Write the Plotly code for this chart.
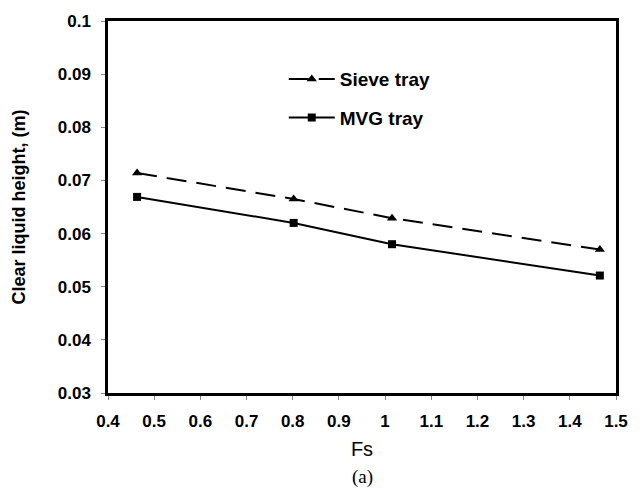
import plotly.graph_objects as go

fs = [0.463, 0.802, 1.015, 1.465]
sieve = [0.0714, 0.0665, 0.0629, 0.0570]
mvg = [0.0669, 0.0620, 0.0580, 0.0521]

x_ticks = [0.4, 0.5, 0.6, 0.7, 0.8, 0.9, 1.0, 1.1, 1.2, 1.3, 1.4, 1.5]
x_tick_text = ["0.4", "0.5", "0.6", "0.7", "0.8", "0.9", "1", "1.1", "1.2", "1.3", "1.4", "1.5"]
y_ticks = [0.03, 0.04, 0.05, 0.06, 0.07, 0.08, 0.09, 0.1]
y_tick_text = ["0.03", "0.04", "0.05", "0.06", "0.07", "0.08", "0.09", "0.1"]

font_b = "Liberation Sans"

fig = go.Figure()
fig.add_trace(go.Scatter(
    x=fs, y=sieve, name="Sieve tray", mode="lines+markers", legendgroup="a",
    line=dict(color="black", width=2, dash="20px,10px"),
    marker=dict(symbol="triangle-up", size=9, color="black"),
))
fig.add_trace(go.Scatter(
    x=fs, y=mvg, name="MVG tray", mode="lines+markers", legendgroup="b",
    line=dict(color="black", width=2),
    marker=dict(symbol="square", size=8, color="black"),
))

fig.update_layout(
    width=640, height=491,
    margin=dict(l=108, r=15, t=21, b=98),
    paper_bgcolor="white", plot_bgcolor="white",
    showlegend=True,
    legend=dict(
        x=0.346, y=0.895, xanchor="left", yanchor="top",
        bgcolor="rgba(0,0,0,0)", borderwidth=0,
        font=dict(family=font_b, size=19, color="black", weight="bold"),
        tracegroupgap=11, itemwidth=46,
    ),
    xaxis=dict(
        range=[0.4, 1.5], tickvals=x_ticks, ticktext=x_tick_text,
        showgrid=False, zeroline=False,
        showline=True, linecolor="black", linewidth=2.5, mirror=True,
        ticks="outside", ticklen=4, tickcolor="#888", tickwidth=1,
        ticklabelstandoff=7,
        tickfont=dict(family=font_b, size=17, color="black", weight="bold"),
        title=dict(text="Fs", font=dict(family=font_b, size=20, color="black"), standoff=12),
    ),
    yaxis=dict(
        range=[0.03, 0.1], tickvals=y_ticks, ticktext=y_tick_text,
        showgrid=False, zeroline=False,
        showline=True, linecolor="black", linewidth=2.5, mirror=True,
        ticks="outside", ticklen=4, tickcolor="#888", tickwidth=1,
        ticklabelstandoff=7,
        tickfont=dict(family=font_b, size=17, color="black", weight="bold"),
        title=dict(text="Clear liquid height, (m)", font=dict(family=font_b, size=18, color="black", weight="bold"), standoff=28),
    ),
    annotations=[dict(
        text="(a)", xref="paper", yref="paper", x=0.5, y=-0.225,
        xanchor="center", yanchor="middle", showarrow=False,
        font=dict(family="Liberation Serif", size=19, color="black"),
    )],
)

fig.write_html("out.html")
